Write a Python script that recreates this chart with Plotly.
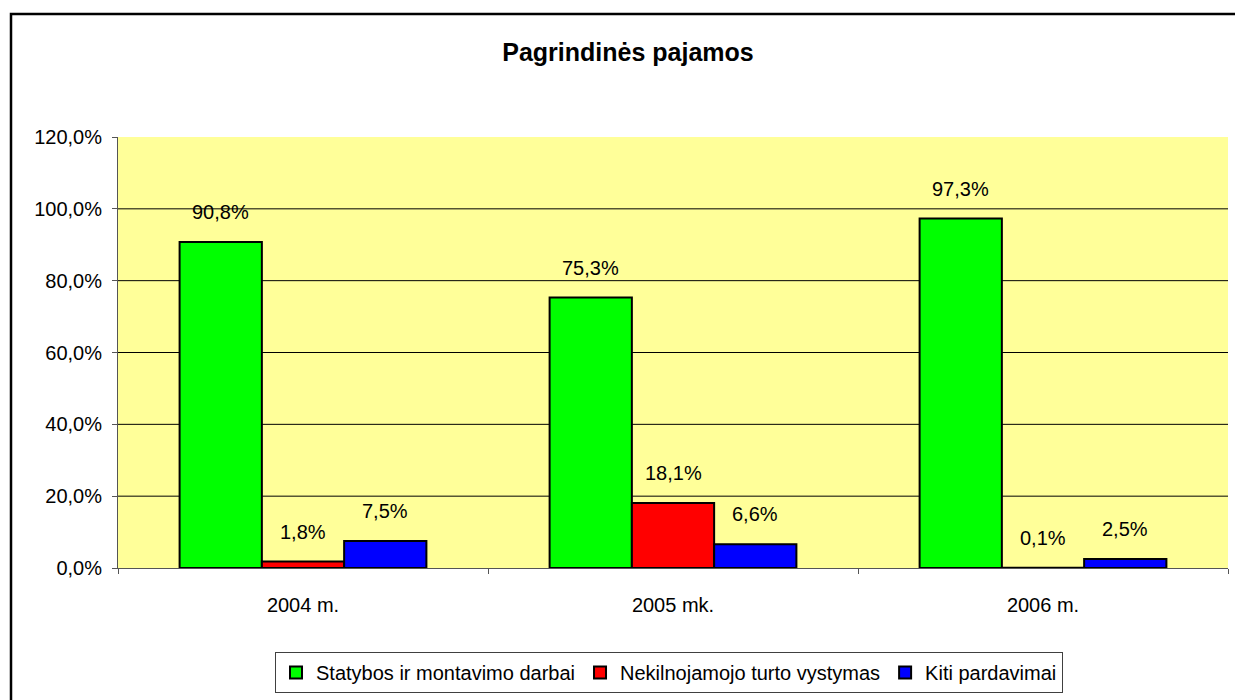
import plotly.graph_objects as go

categories = ["2004 m.", "2005 mk.", "2006 m."]
series_names = ["Statybos ir montavimo darbai", "Nekilnojamojo turto vystymas", "Kiti pardavimai"]
statybos = [0.908, 0.753, 0.973]
nekilnojamojo = [0.018, 0.181, 0.001]
kiti = [0.075, 0.066, 0.025]
series_values = [statybos, nekilnojamojo, kiti]
series_colors = ["#00FF00", "#FF0000", "#0000FF"]
y_ticks = [0, 0.2, 0.4, 0.6, 0.8, 1.0, 1.2]
title_text = "Pagrindinės pajamos"

W, H = 1235, 700
L, R, T, B = 118, 7, 137, 132
pw, ph = W - L - R, H - T - B

font_family = "Liberation Sans, Arial, sans-serif"

fig = go.Figure()
for name, vals, col in zip(series_names, series_values, series_colors):
    fig.add_trace(go.Bar(
        x=categories, y=vals, name=name,
        marker=dict(color=col, line=dict(color="black", width=2)),
    ))

bar_px = pw / len(categories) * (1 - 0.333) / len(series_names)
annotations = []
for i, vals in enumerate(series_values):
    off = (i - 1) * bar_px
    for c, v in zip(categories, vals):
        txt = f"{v*100:.1f}%".replace(".", ",")
        annotations.append(dict(
            x=c, y=v, xref="x", yref="y", text=txt, showarrow=False,
            xshift=off, yshift=30, yanchor="middle",
            font=dict(size=20, color="black", family=font_family),
        ))

shapes = [dict(type="line", xref="paper", yref="y", x0=0, x1=1, y0=v, y1=v,
               line=dict(color="black", width=1), layer="below")
          for v in y_ticks[1:-1]]
shapes.append(dict(type="rect", xref="paper", yref="paper",
                   x0=(11 - L) / pw, x1=1.2, y0=-1.0, y1=(T + ph - 14) / ph,
                   line=dict(color="black", width=2.5), fillcolor="rgba(0,0,0,0)", layer="above"))

fig.update_layout(
    width=W, height=H,
    margin=dict(l=L, r=R, t=T, b=B, autoexpand=False),
    paper_bgcolor="white",
    plot_bgcolor="#FFFF99",
    barmode="group", bargap=0.333, bargroupgap=0,
    separators=", ",
    font=dict(family=font_family, size=20, color="black"),
    title=dict(text=f"<b>{title_text}</b>", x=(628 - L) / pw, xref="paper", xanchor="center",
               y=1 - 52 / H, yref="container", yanchor="middle",
               font=dict(size=25, color="black", family=font_family)),
    showlegend=True,
    legend=dict(orientation="h", x=(669 - L) / pw, xanchor="center",
                y=(T + ph - 652) / ph, yanchor="top",
                bordercolor="#404040", borderwidth=1, bgcolor="white",
                font=dict(size=20, color="black", family=font_family),
                itemwidth=30, tracegroupgap=0, traceorder="normal"),
    annotations=annotations,
    shapes=shapes,
)
fig.update_yaxes(range=[0, 1.2], tickvals=y_ticks, tickformat=".1%",
                 showgrid=False,
                 showline=True, linecolor="#555555", linewidth=1,
                 ticks="outside", ticklen=5, tickcolor="#555555",
                 ticklabelstandoff=6, zeroline=False,
                 tickfont=dict(size=20, color="black"))
fig.update_xaxes(showline=True, linecolor="#555555", linewidth=1,
                 ticks="outside", ticklen=5, tickcolor="#555555",
                 tickson="boundaries", showgrid=False,
                 ticklabelstandoff=19,
                 tickfont=dict(size=20, color="black"))

fig.write_html("out.html",
               config={"displayModeBar": False},
               post_script="document.body.style.margin='0';document.body.style.overflow='hidden';")
